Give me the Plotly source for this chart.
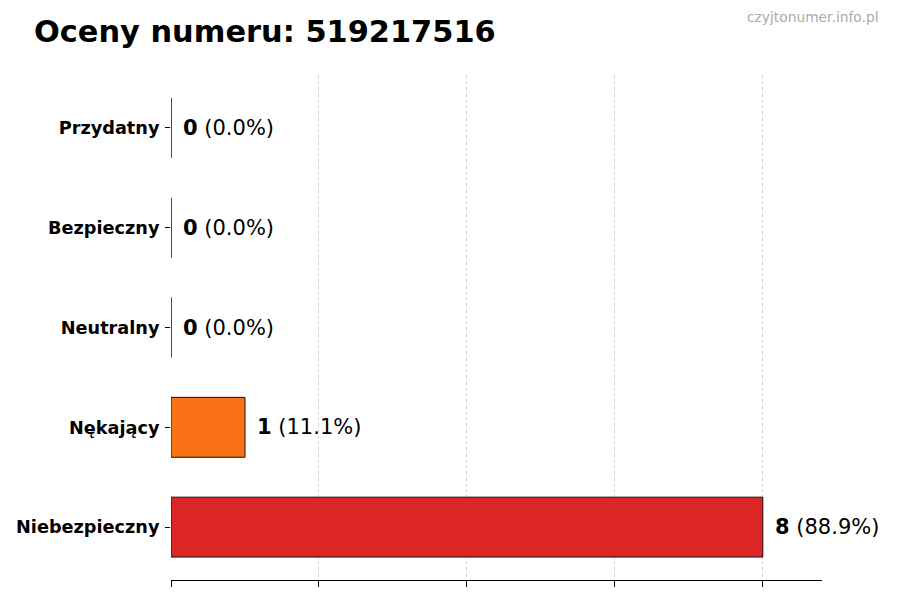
import plotly.graph_objects as go

categories = ["Niebezpieczny", "Nękający", "Neutralny", "Bezpieczny", "Przydatny"]
counts = [8, 1, 0, 0, 0]
bar_colors = ["#dc2626", "#f97316", "#9ca3af", "#3b82f6", "#22c55e"]
title_text = "Oceny numeru: 519217516"
watermark = "czyjtonumer.info.pl"
x_ticks = [0, 2, 4, 6, 8]

total = sum(counts)
labels = [f"<b>{c}</b> ({c / total * 100:.1f}%)" for c in counts]

fig = go.Figure()
fig.add_trace(go.Bar(
    x=counts, y=categories, orientation="h", width=0.6,
    marker=dict(color=bar_colors, line=dict(color="#111111", width=1)),
    hoverinfo="skip",
))

for cat, c, lab in zip(categories, counts, labels):
    fig.add_annotation(x=c, y=cat, text=lab, xanchor="left", yanchor="middle",
                       xshift=10, showarrow=False,
                       font=dict(family="DejaVu Sans", size=21, color="black"))

fig.update_layout(
    width=900, height=600,
    margin=dict(l=171, r=78, t=75, b=20),
    plot_bgcolor="white", paper_bgcolor="white",
    showlegend=False,
    title=dict(text=f"<b>{title_text}</b>", x=34 / 900, xanchor="left",
               y=1 - 31 / 600, yanchor="middle",
               font=dict(family="DejaVu Sans", size=30.4, color="black")),
    xaxis=dict(range=[0, 8.8], tickvals=x_ticks, ticktext=[""] * len(x_ticks),
               showgrid=True, gridcolor="#d9d9d9", griddash="4px,2px", gridwidth=1,
               zeroline=False, showline=True, linecolor="black", linewidth=1,
               ticks="outside", ticklen=6, tickcolor="black"),
    yaxis=dict(type="category", categoryorder="array", categoryarray=categories,
               range=[-0.53, 4.53], showgrid=False, zeroline=False, showline=False,
               ticks="outside", ticklen=5, tickcolor="black",
               tickfont=dict(family="DejaVu Sans", size=17.7, color="black"),
               ticklabelstandoff=2),
)
fig.update_yaxes(tickvals=categories, ticktext=[f"<b>{c}</b>" for c in categories])

fig.add_annotation(text=watermark, xref="paper", yref="paper",
                   x=(881 - 171) / 651, y=(600 - 17 - 20) / 505,
                   xanchor="right", yanchor="middle", showarrow=False,
                   font=dict(family="DejaVu Sans", size=13.8, color="#aaaaaa"))

fig.write_html("out.html", config={"displayModeBar": False},
               post_script="document.body.style.margin='0';")
